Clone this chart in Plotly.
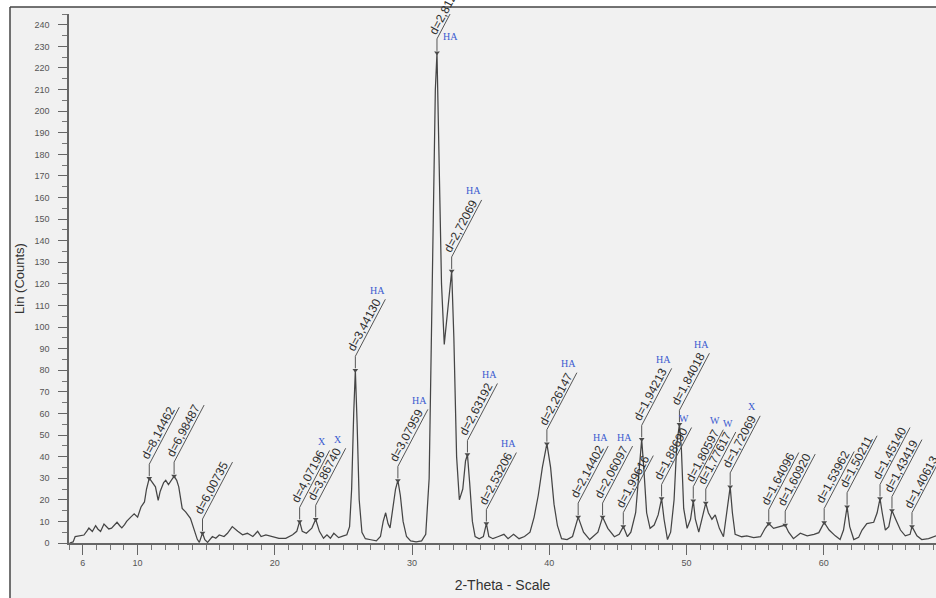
import plotly.graph_objects as go

# ---------------- data ----------------
# Background profile (2-Theta, Lin counts), labelled reflections are added below
bg_theta = [5.05, 5.3, 5.45, 5.8, 6.09, 6.3, 6.45, 6.7, 6.94, 7.1, 7.3, 7.55, 7.75, 7.9, 8.1, 8.3, 8.5, 8.7, 8.85,
            9.05, 9.2, 9.5, 9.75, 10.0, 10.25, 10.5, 10.65, 11.1, 11.3, 11.5, 11.65, 11.9, 12.05, 12.25, 12.45,
            12.85, 13.0, 13.25, 13.5, 13.85, 14.1, 14.35, 14.5, 14.9, 15.1, 15.45, 15.7, 15.95, 16.3, 16.55, 16.9,
            17.3, 17.65, 18.0, 18.4, 18.75, 19.0, 19.35, 19.85, 20.3, 20.8, 21.3, 21.6, 22.0, 22.3, 22.7, 23.25,
            23.55, 23.8, 24.05, 24.3, 24.65, 25.0, 25.25, 25.45, 25.6, 25.75, 26.0, 26.15, 26.35, 26.6, 27.0, 27.4,
            27.7, 27.9, 28.08, 28.25, 28.4, 28.6, 28.8, 29.15, 29.35, 29.6, 29.9, 30.3, 30.7, 31.0, 31.25, 31.5,
            31.7, 31.95, 32.15, 32.35, 32.55, 32.75, 33.05, 33.25, 33.45, 33.7, 33.9, 34.2, 34.4, 34.6, 34.9, 35.2,
            35.6, 35.9, 36.3, 36.7, 37.0, 37.4, 37.8, 38.2, 38.6, 38.9, 39.2, 39.5, 40.1, 40.35, 40.6, 40.9, 41.3,
            41.7, 41.95, 42.5, 42.95, 43.55, 44.27, 44.75, 45.1, 45.7, 45.95, 46.3, 46.55, 46.9, 47.1, 47.35, 47.65,
            47.94, 48.37, 48.62, 48.85, 49.1, 49.3, 49.63, 49.8, 50.05, 50.3, 50.65, 50.9, 51.14, 51.6, 51.86, 52.1,
            52.4, 52.7, 52.95, 53.35, 53.55, 54.03, 54.4, 54.9, 55.4, 55.74, 56.35, 56.84, 57.45, 57.8, 58.3, 58.8,
            59.3, 59.65, 60.4, 60.85, 61.2, 61.45, 61.9, 62.2, 62.55, 62.8, 63.15, 63.65, 63.9, 64.27, 64.5, 64.75,
            65.25, 65.6, 65.95, 66.3, 66.8, 67.15, 67.65, 68.2]
bg_counts = [0, 0.5, 3, 3.2, 3.7, 5.5, 6.9, 5.3, 8, 6.5, 5.3, 8.8, 7.5, 6.5, 6.9, 8.2, 9.6, 8, 7,
             8.5, 10, 12, 13.5, 12, 16.7, 19, 25, 28, 26, 19.7, 24, 28, 29, 27, 29,
             29, 26, 16, 14.4, 11.4, 6.7, 1.7, 0.3, 1.5, 0.3, 3, 2.2, 3.7, 3, 4.5, 7.6,
             5.4, 3.8, 4.5, 3, 5.4, 3, 3.8, 3, 2.2, 2.2, 3.8, 5.4, 5.4, 4.5, 6.9, 5.4,
             2.2, 3.8, 2.2, 4.5, 2.5, 3.3, 3.8, 7.6, 25, 60, 55, 20, 5, 2, 1.5, 1,
             3, 10, 14, 9, 7, 15, 25, 22, 10, 3, 1, 0.5, 1, 4, 30, 120,
             210, 190, 120, 92, 105, 120, 95, 40, 20, 25, 38, 28, 10, 3, 2, 3,
             3, 2, 3, 4, 2, 4, 2, 3, 5, 12, 22, 35, 35, 18, 8, 2, 1.6,
             3, 8, 5, 1.6, 5, 6.8, 2.9, 4, 2.9, 5, 14, 34, 34, 14, 6.8, 8.3,
             13, 11, 1.6, 5, 20, 46, 44, 16, 6.8, 11, 11, 5, 11, 14, 11, 13,
             6.8, 2.9, 14, 14, 4, 2.9, 3.3, 2.5, 2.9, 6.8, 6.8, 7.6, 5, 2, 4.5, 3.3,
             4, 4.8, 6, 3.3, 1.6, 6, 7.6, 1.6, 2.6, 6, 9, 9.6, 14, 14, 6, 7.6,
             11, 6, 3.3, 4, 3.3, 1.6, 2, 3.3]

# Labelled reflections
peak_theta = [10.85, 12.66, 14.73, 21.81, 22.98, 25.87, 28.97, 31.82, 32.89, 34.04, 35.42, 39.83, 42.11,
              43.89, 45.40, 46.74, 48.19, 49.49, 50.50, 51.41, 53.19, 56.00, 57.20, 60.04, 61.71, 64.11,
              64.98, 66.44]
peak_counts = [30, 31, 4.6, 10, 11, 80, 29, 227, 126, 41, 9, 46, 12,
               12, 7.6, 48, 20.6, 55, 19.6, 18.5, 26, 9, 8.3, 9.5, 16.8, 20.6,
               15, 7.6]
peak_d = ["8,14462", "6,98487", "6,00735", "4,07196", "3,86740", "3,44130", "3,07959", "2,81206",
          "2,72069", "2,63192", "2,53206", "2,26147", "2,14402", "2,06097", "1,99616", "1,94213",
          "1,88690", "1,84018", "1,80597", "1,77617", "1,72069", "1,64096", "1,60920", "1,53962",
          "1,50211", "1,45140", "1,43419", "1,40613"]
peak_phase = ["", "", "", "X", "X", "HA", "HA", "HA", "HA", "HA", "HA", "HA", "HA", "HA", "", "HA",
              "W", "HA", "W", "W", "X", "", "", "", "", "", "", ""]

x_tick_vals = [6, 10, 20, 30, 40, 50, 60]
y_tick_vals = list(range(0, 241, 10))

# ---------------- layout constants ----------------
W, H = 936, 598
ML, MR, MT, MB = 69, 0, 14, 55
X_RANGE = [5.0, 68.19]
Y_RANGE = [0, 245]
PW, PH = W - ML - MR, H - MT - MB
PPU_Y = PH / (Y_RANGE[1] - Y_RANGE[0])


def px_x(p):
    return (p - ML) / PW


def px_y(q):
    return (H - MB - q) / PH


pts = sorted(zip(bg_theta + peak_theta, bg_counts + peak_counts))
xs = [p[0] for p in pts]
ys = [p[1] for p in pts]

fig = go.Figure()
fig.add_trace(go.Scatter(x=xs, y=ys, mode="lines", line=dict(color="#454545", width=1.25),
                         hoverinfo="skip", showlegend=False))
fig.add_trace(go.Scatter(x=peak_theta, y=peak_counts, mode="markers",
                         marker=dict(symbol="triangle-down", size=5, color="#4a4a4a"),
                         hoverinfo="skip", showlegend=False))

STEM0, STEM1 = 2, 14
DX, DY = 30, 57
shapes = []
annotations = []
for t, c, d, ph in zip(peak_theta, peak_counts, peak_d, peak_phase):
    shapes.append(dict(type="path", xref="x", yref="y", xsizemode="pixel", ysizemode="pixel",
                       xanchor=t, yanchor=c,
                       path=f"M0,{STEM0} L0,{STEM1} L{DX},{STEM1 + DY}",
                       line=dict(color="#555555", width=1)))
    annotations.append(dict(x=t, y=c, xref="x", yref="y", showarrow=False, text=f"d={d}",
                            textangle=-62, xshift=9, yshift=45, xanchor="center", yanchor="middle",
                            font=dict(family="Liberation Sans, Arial", size=12, color="#2e2e2e")))
    if ph:
        if c + 85 / PPU_Y > Y_RANGE[1]:
            xs_, ys_ = 14, 16
        else:
            xs_, ys_ = 22, 80
        annotations.append(dict(x=t, y=c, xref="x", yref="y", showarrow=False, text=ph,
                                xshift=xs_, yshift=ys_, xanchor="center", yanchor="middle",
                                font=dict(family="Liberation Serif, Times New Roman", size=10,
                                          color="#3a5bd0")))

# page frame (scan border)
shapes.append(dict(type="rect", xref="paper", yref="paper", x0=px_x(0), x1=px_x(10), y0=px_y(H), y1=px_y(0),
                   fillcolor="white", line=dict(width=0), layer="below"))
shapes.append(dict(type="rect", xref="paper", yref="paper", x0=px_x(0), x1=px_x(W), y0=px_y(7), y1=px_y(0),
                   fillcolor="white", line=dict(width=0), layer="below"))
shapes.append(dict(type="line", xref="paper", yref="paper", x0=px_x(10), x1=px_x(10), y0=px_y(H), y1=px_y(7),
                   line=dict(color="#444444", width=1.5)))
shapes.append(dict(type="line", xref="paper", yref="paper", x0=px_x(10), x1=px_x(W), y0=px_y(7), y1=px_y(7),
                   line=dict(color="#444444", width=1.5)))

fig.update_layout(
    width=W, height=H,
    margin=dict(l=ML, r=MR, t=MT, b=MB, pad=0),
    paper_bgcolor="#f1f1f1", plot_bgcolor="#f1f1f1",
    shapes=shapes, annotations=annotations,
    font=dict(family="Liberation Sans, Arial", color="#444444"),
    xaxis=dict(range=X_RANGE, showgrid=False, zeroline=False, showline=True, linecolor="#666666",
               linewidth=1.5, ticks="outside", tickvals=x_tick_vals, ticklen=10, tickcolor="#666666",
               tickfont=dict(size=9, color="#555555"),
               minor=dict(dtick=1, ticklen=5, ticks="outside", tickcolor="#777777"),
               title=dict(text="2-Theta - Scale", font=dict(size=14, color="#333333"), standoff=14)),
    yaxis=dict(range=Y_RANGE, showgrid=False, zeroline=False, showline=True, linecolor="#666666",
               linewidth=1.5, ticks="outside", tickvals=y_tick_vals, ticklen=9, tickcolor="#666666",
               tickfont=dict(size=9, color="#555555"), ticklabelstandoff=7,
               minor=dict(dtick=5, ticklen=5, ticks="outside", tickcolor="#777777"),
               title=dict(text="Lin (Counts)", font=dict(size=13, color="#333333"), standoff=7)),
)

fig.write_html("out.html")
